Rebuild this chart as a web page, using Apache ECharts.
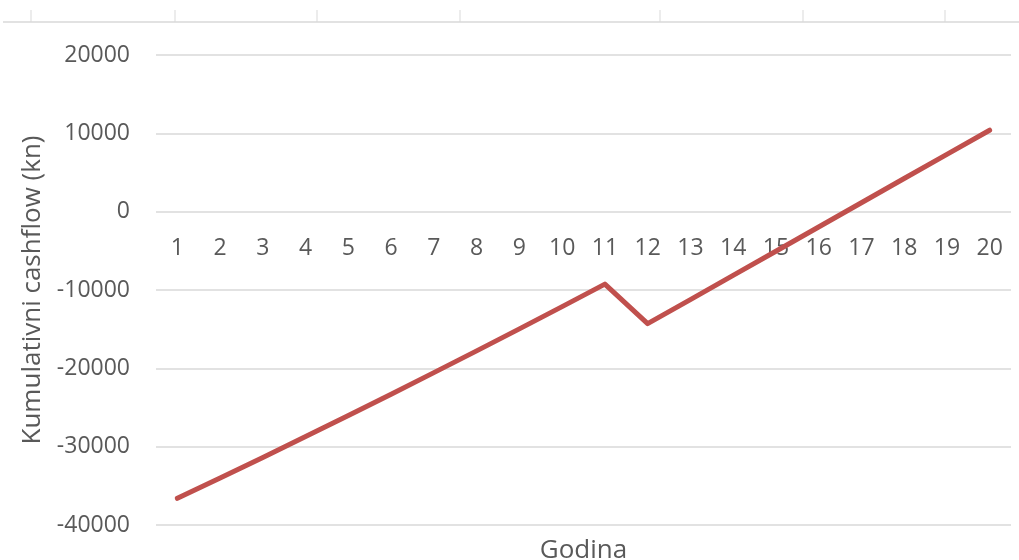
<!DOCTYPE html>
<html>
<head>
<meta charset="utf-8">
<title>Kumulativni cashflow</title>
<script src="https://cdn.jsdelivr.net/npm/echarts@6/dist/echarts.min.js"></script>
<style>
  html, body { margin: 0; padding: 0; background: #ffffff; }
  #chart { width: 1019px; height: 560px; }
</style>
</head>
<body>
<div id="chart"></div>
<script>
// Years of the investment period
const godine = ['1','2','3','4','5','6','7','8','9','10','11','12','13','14','15','16','17','18','19','20'];

// Cumulative cash flow per year (kn)
const kumulativniCashflow = [
  -36600, -34000, -31370, -28710, -26020, -23300, -20550, -17770, -14960, -12120,
  -9250, -14300, -11220, -8140, -5050, -1960, 1140, 4240, 7320, 10400
];

// Value axis range and step
const yMin = -40000;
const yMax = 20000;
const yStep = 10000;

const textColor = '#595959';
const gridColor = '#D9D9D9';
const fontFamily = '"Open Sans", "Liberation Sans", sans-serif';

// Plot area
const gridTop = 55;
const gridBottom = 35;
const chartHeight = 560;

const chart = echarts.init(document.getElementById('chart'), null, { renderer: 'canvas' });

// Pull the category axis up from the bottom edge onto the value 0
const plotHeight = chartHeight - gridTop - gridBottom;
const zeroOffset = -plotHeight * (0 - yMin) / (yMax - yMin);

// Edge of the neighbouring chart frame visible at the top
const topFrameTicks = [31, 175, 317, 460, 660, 803, 945];
const frameGraphics = [
  { type: 'line', shape: { x1: 3, y1: 22, x2: 1019, y2: 22 }, style: { stroke: gridColor, lineWidth: 1.5 }, silent: true }
].concat(topFrameTicks.map(x => ({
  type: 'line', shape: { x1: x, y1: 10, x2: x, y2: 22 }, style: { stroke: gridColor, lineWidth: 1 }, silent: true
})));

chart.setOption({
  animation: false,
  backgroundColor: '#ffffff',
  textStyle: { fontFamily: fontFamily, color: textColor },
  graphic: frameGraphics,
  grid: { left: 156, right: 8, top: gridTop, bottom: gridBottom, containLabel: false, outerBoundsMode: 'none' },
  xAxis: {
    type: 'category',
    data: godine,
    boundaryGap: true,
    position: 'bottom',
    offset: zeroOffset,
    axisLine: { show: false, onZero: false },
    axisTick: { show: false },
    axisLabel: { color: textColor, fontSize: 23, margin: 25, fontFamily: fontFamily, interval: 0 },
    splitLine: { show: false },
    name: 'Godina',
    nameLocation: 'middle',
    nameGap: 326,
    nameTextStyle: { color: textColor, fontSize: 26, fontFamily: fontFamily }
  },
  yAxis: {
    type: 'value',
    min: yMin,
    max: yMax,
    interval: yStep,
    axisLine: { show: false },
    axisTick: { show: false },
    axisLabel: { color: textColor, fontSize: 23, margin: 26, fontFamily: fontFamily, formatter: v => String(v) },
    splitLine: { show: true, lineStyle: { color: gridColor, width: 1.5 } },
    name: 'Kumulativni cashflow (kn)',
    nameLocation: 'middle',
    nameGap: 110,
    nameTextStyle: { color: textColor, fontSize: 26, fontFamily: fontFamily }
  },
  series: [{
    type: 'line',
    data: kumulativniCashflow,
    showSymbol: false,
    symbol: 'none',
    smooth: false,
    lineStyle: { color: '#C0504D', width: 5, cap: 'round', join: 'round' },
    itemStyle: { color: '#C0504D' }
  }]
});
</script>
</body>
</html>
